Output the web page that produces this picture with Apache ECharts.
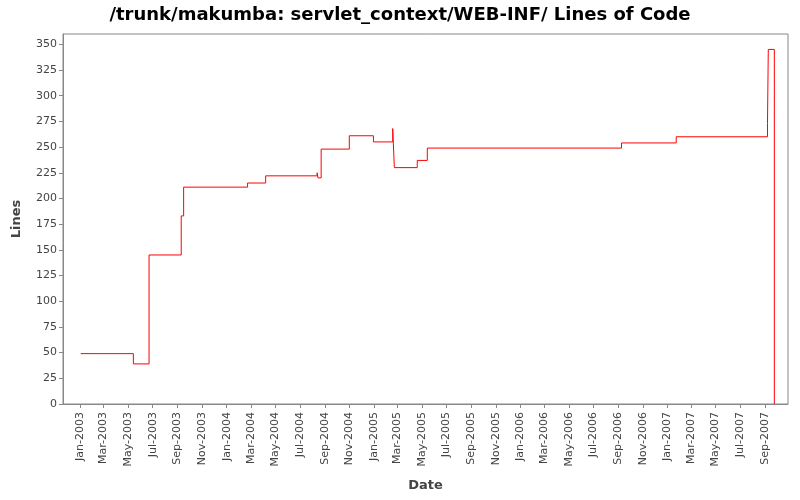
<!DOCTYPE html>
<html lang="en">
<head>
    <meta charset="utf-8">
    <title>Lines of Code</title>
    <script src="https://cdn.jsdelivr.net/npm/echarts@6/dist/echarts.min.js"></script>
    <style>
        body { margin: 0; background: #fff; }
        #chart { width: 800px; height: 500px; }
    </style>
</head>
<body>
<div id="chart"></div>
<script>
    // commit dates and line counts (value holds from that date on)
    var dates = ['2003-01-03', '2003-05-14', '2003-06-22', '2003-09-10', '2003-09-16', '2004-02-22',
        '2004-04-07', '2004-08-13', '2004-08-15', '2004-08-23', '2004-11-01', '2004-12-31',
        '2005-02-17', '2005-02-21', '2005-04-19', '2005-05-14', '2006-09-09', '2007-01-23',
        '2007-09-07', '2007-09-09', '2007-09-24'];
    var lines = [49, 39, 145, 183, 211, 215, 222, 225, 220, 248, 261, 255, 268, 230, 237, 249, 254, 260, 273, 345, 0];

    var tickDates = [];
    var tickLabels = ['Jan-2003', 'Mar-2003', 'May-2003', 'Jul-2003', 'Sep-2003', 'Nov-2003',
        'Jan-2004', 'Mar-2004', 'May-2004', 'Jul-2004', 'Sep-2004', 'Nov-2004',
        'Jan-2005', 'Mar-2005', 'May-2005', 'Jul-2005', 'Sep-2005', 'Nov-2005',
        'Jan-2006', 'Mar-2006', 'May-2006', 'Jul-2006', 'Sep-2006', 'Nov-2006',
        'Jan-2007', 'Mar-2007', 'May-2007', 'Jul-2007', 'Sep-2007'];
    var monthNames = {Jan: 0, Mar: 2, May: 4, Jul: 6, Sep: 8, Nov: 10};
    tickLabels.forEach(function (l) {
        var p = l.split('-');
        tickDates.push(Date.UTC(+p[1], monthNames[p[0]], 1));
    });

    var data = dates.map(function (d, i) {
        var p = d.split('-');
        return [Date.UTC(+p[0], p[1] - 1, +p[2]), lines[i]];
    });

    var chart = echarts.init(document.getElementById('chart'));
    chart.setOption({
        animation: false,
        title: {
            text: '/trunk/makumba: servlet_context/WEB-INF/ Lines of Code',
            left: 'center', top: 1,
            textStyle: {fontFamily: 'DejaVu Sans', fontSize: 18, fontWeight: 'bold', color: '#000'}
        },
        grid: {left: 63, right: 12, top: 34, bottom: 96, show: true, borderColor: '#888', borderWidth: 1},
        xAxis: {
            type: 'value',
            min: Date.UTC(2002, 10, 20),
            max: Date.UTC(2007, 9, 28),
            name: 'Date', nameLocation: 'middle', nameGap: 75,
            nameTextStyle: {fontFamily: 'DejaVu Sans', fontSize: 13, fontWeight: 'bold', color: '#444'},
            axisLine: {show: true, lineStyle: {color: '#888'}},
            axisTick: {show: true, length: 4, customValues: tickDates, lineStyle: {color: '#888'}},
            axisLabel: {
                customValues: tickDates, rotate: 90, fontFamily: 'DejaVu Sans', fontSize: 11, color: '#444',
                formatter: function (v) { return tickLabels[tickDates.indexOf(v)]; }
            },
            splitLine: {show: false}
        },
        yAxis: {
            type: 'value', min: 0, max: 360, interval: 25,
            name: 'Lines', nameLocation: 'middle', nameGap: 40,
            nameTextStyle: {fontFamily: 'DejaVu Sans', fontSize: 13, fontWeight: 'bold', color: '#444'},
            axisLine: {show: true, lineStyle: {color: '#888'}},
            axisTick: {show: true, length: 4, lineStyle: {color: '#888'}},
            axisLabel: {showMaxLabel: false, fontFamily: 'DejaVu Sans', fontSize: 11, color: '#444', margin: 6},
            splitLine: {show: false}
        },
        series: [{
            type: 'line', step: 'end', data: data, showSymbol: false,
            lineStyle: {color: '#ff0000', width: 1}
        }]
    });
</script>
</body>
</html>
